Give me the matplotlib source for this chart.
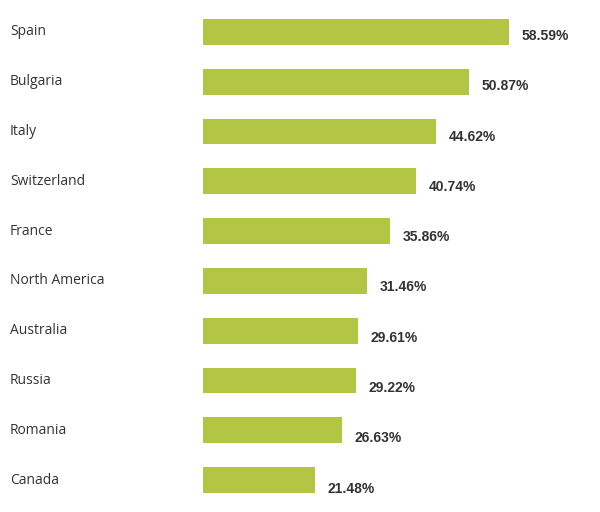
import matplotlib.pyplot as plt
from matplotlib import transforms

# data
countries = ["Spain", "Bulgaria", "Italy", "Switzerland", "France",
             "North America", "Australia", "Russia", "Romania", "Canada"]
shares = [58.59, 50.87, 44.62, 40.74, 35.86, 31.46, 29.61, 29.22, 26.63, 21.48]
labels = ["58.59%", "50.87%", "44.62%", "40.74%", "35.86%",
          "31.46%", "29.61%", "29.22%", "26.63%", "21.48%"]

bar_color = "#b3c644"
text_color = "#333333"

fig = plt.figure(figsize=(6, 5.12), dpi=100)
ax = fig.add_axes([203 / 600, 7 / 512, 397 / 600, 498 / 512])

ypos = list(range(len(countries)))
ax.barh(ypos, shares, height=0.52, color=bar_color)

ax.set_xlim(0, 76.0)
ax.set_ylim(len(countries) - 0.5, -0.5)
ax.axis("off")

# country names at the far left of the figure
trans = transforms.blended_transform_factory(fig.transFigure, ax.transData)
for y, name in zip(ypos, countries):
    ax.text(10 / 600, y, name, transform=trans, ha="left", va="center",
            fontsize=10, family="Open Sans", color=text_color)

# value labels right of the bars
for y, v, lab in zip(ypos, shares, labels):
    ax.annotate(lab, (v, y), xytext=(9, -3 - 0.35 * y), textcoords="offset points",
                ha="left", va="center", fontsize=10, fontweight="bold",
                family="Liberation Sans", color=text_color)

fig.savefig("out.png", dpi=100)
